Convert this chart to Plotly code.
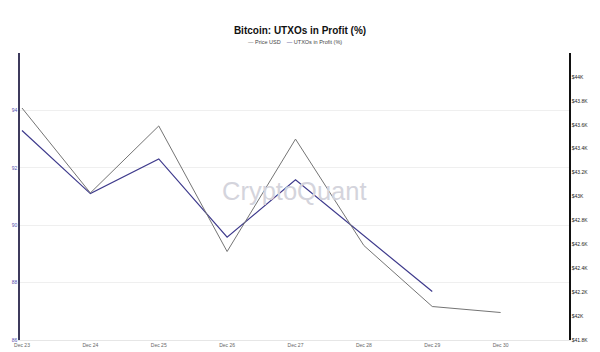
import plotly.graph_objects as go

dates = ["2023-12-23", "2023-12-24", "2023-12-25", "2023-12-26",
         "2023-12-27", "2023-12-28", "2023-12-29", "2023-12-30"]
price_usd = [43740, 43030, 43590, 42540, 43480, 42590, 42080, 42030]
utxo_dates = dates[:7]
utxo_profit = [93.30, 91.10, 92.31, 89.58, 91.58, 89.63, 87.69]

left_ticks = [86, 88, 90, 92, 94]
right_ticks = [41800, 42000, 42200, 42400, 42600, 42800, 43000,
               43200, 43400, 43600, 43800, 44000]
right_labels = ["$41.8K", "$42K", "$42.2K", "$42.4K", "$42.6K", "$42.8K",
                "$43K", "$43.2K", "$43.4K", "$43.6K", "$43.8K", "$44K"]
x_ticks = dates
x_labels = ["Dec 23", "Dec 24", "Dec 25", "Dec 26", "Dec 27", "Dec 28",
            "Dec 29", "Dec 30"]

price_color = "#747474"
utxo_color = "#3e3a8c"

fig = go.Figure()
fig.add_trace(go.Scatter(x=dates, y=price_usd, name="Price USD", mode="lines",
                         line=dict(color=price_color, width=1), yaxis="y2",
                         showlegend=False))
fig.add_trace(go.Scatter(x=utxo_dates, y=utxo_profit, name="UTXOs in Profit (%)",
                         mode="lines", line=dict(color=utxo_color, width=1.2),
                         showlegend=False))

fig.add_annotation(text="CryptoQuant", x=0.5, y=0.52, xref="paper", yref="paper",
                   showarrow=False, font=dict(size=25.5, color="#d4d4dc",
                                              family="Liberation Sans"))

# legend row (drawn as text so the line samples stay short)
legend_text = (f"<span style='color:{price_color}'>—</span> Price USD"
               f"    <span style='color:{utxo_color}'>—</span> UTXOs in Profit (%)")
fig.add_annotation(text=legend_text, x=0.5, y=1 - (42 - 53) / -287 * -1 + 0.0,
                   xref="paper", yref="paper", showarrow=False,
                   xanchor="center", yanchor="middle",
                   font=dict(size=5.5, color="#444", family="Liberation Sans"))

fig.update_layout(
    width=600, height=352,
    margin=dict(l=20, r=31, t=53, b=12),
    paper_bgcolor="white", plot_bgcolor="white",
    font=dict(family="Liberation Sans", color="#333"),
    showlegend=False,
    title=dict(text="<b>Bitcoin: UTXOs in Profit (%)</b>", x=0.5, xanchor="center",
               y=0.912, yanchor="middle", font=dict(size=10, color="#111")),
    xaxis=dict(range=["2023-12-22 23:18", "2023-12-31 00:00"], tickvals=x_ticks,
               ticktext=x_labels, showgrid=False, tickfont=dict(size=5, color="#666"),
               showline=True, linecolor="#e6e6e6", ticks="", zeroline=False,
               automargin=False),
    yaxis=dict(range=[86, 96], tickvals=left_ticks, showgrid=True, gridcolor="#efefef",
               tickfont=dict(size=5, color="#5550b0"), showline=True,
               linecolor="#3d3a5c", linewidth=1.5, ticks="", zeroline=False,
               automargin=False),
    yaxis2=dict(range=[41800, 44200], tickvals=right_ticks, ticktext=right_labels,
                overlaying="y", side="right", showgrid=False,
                tickfont=dict(size=5, color="#222"), showline=True,
                linecolor="#111", linewidth=1.5, ticks="", zeroline=False,
                automargin=False),
)

fig.write_html("out.html")
